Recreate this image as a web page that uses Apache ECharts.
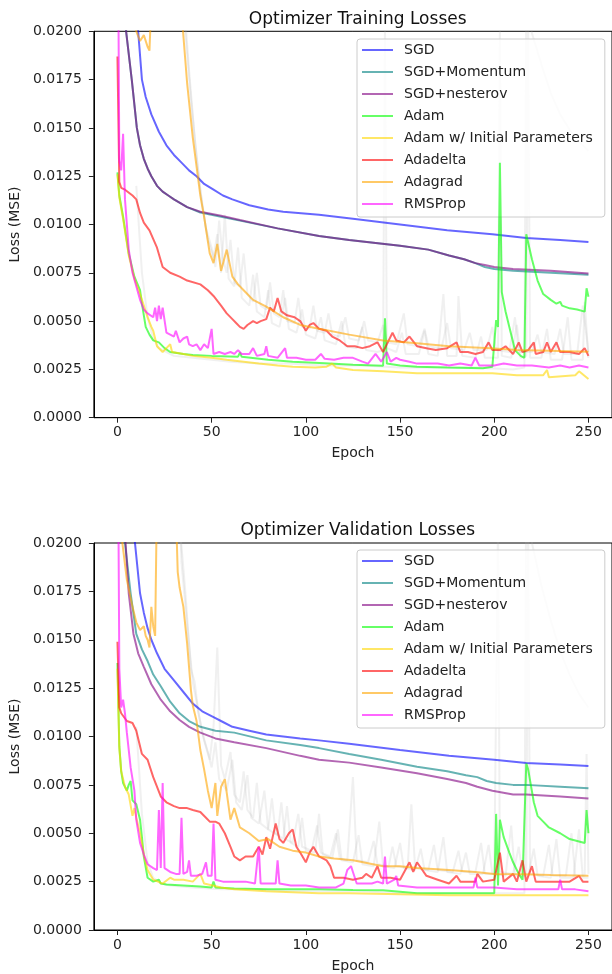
<!DOCTYPE html>
<html>
<head>
<meta charset="utf-8">
<script src="https://cdn.jsdelivr.net/npm/echarts/dist/echarts.min.js"></script>
<style>html,body{margin:0;padding:0;background:#fff}#c{width:612px;height:974px}</style>
</head>
<body>
<div id="c"></div>
<script>
// ---------- DATA (epoch, loss) ----------
const seriesNames = ['SGD','SGD+Momentum','SGD+nesterov','Adam','Adam w/ Initial Parameters','Adadelta','Adagrad','RMSProp'];
const epochTicks = [0,50,100,150,200,250];
const titles = ['Optimizer Training Losses','Optimizer Validation Losses'];

// Training
const trainSGD = [[0,0.08],[4,0.035],[8,0.025],[11,0.0200],[13,0.0175],[15,0.0166],[18,0.0157],[22,0.0148],[26,0.0141],[30,0.0136],[34,0.0132],[38,0.0128],[42,0.0125],[46,0.0121],[51,0.0118],[56,0.0115],[61,0.0113],[70,0.0110],[80,0.01078],[88,0.01066],[107,0.0105],[125,0.0103],[150,0.0100],[175,0.0097],[199,0.0095],[217,0.0093],[235,0.0092],[250,0.0091]];
const trainMomentum = [[0,0.08],[2,0.03],[4.6,0.0200],[7.6,0.0175],[10.3,0.0150],[12,0.0141],[14,0.0134],[16,0.0129],[18,0.0125],[21,0.0120],[24,0.0117],[27,0.0115],[30,0.0113],[37,0.0109],[44,0.01062],[55,0.0104],[65,0.0102],[85,0.0098],[107,0.0094],[123,0.0092],[150,0.0089],[165,0.0087],[176,0.0084],[184,0.0082],[190,0.0080],[195,0.0078],[200,0.0077],[210,0.0076],[230,0.0075],[250,0.00740]];
const trainNesterov = [[0,0.08],[2,0.03],[4.6,0.0200],[7.6,0.0175],[10.3,0.0150],[12,0.0141],[14,0.0134],[16,0.0129],[18,0.0125],[21,0.0120],[24,0.0117],[27,0.0115],[30,0.0113],[37,0.0109],[44,0.01066],[55,0.01045],[65,0.01023],[85,0.0098],[107,0.0094],[123,0.0092],[150,0.0089],[165,0.0087],[176,0.0084],[184,0.0082],[190,0.0080],[195,0.0079],[200,0.0078],[210,0.0077],[230,0.0076],[250,0.00747]];
const trainAdam = [[0,0.0127],[1,0.0115],[3,0.0104],[6,0.0085],[9,0.0073],[12,0.0066],[13,0.0059],[15,0.0047],[17,0.0043],[19,0.0040],[22,0.0039],[25,0.0036],[28,0.0034],[35,0.0033],[40,0.00325],[50,0.0032],[64,0.00316],[65,0.00336],[66,0.00315],[80,0.0030],[93,0.0029],[110,0.00282],[125,0.00274],[141,0.00269],[142,0.00514],[143,0.0028],[150,0.0027],[159,0.00264],[175,0.0026],[194,0.00256],[199,0.00264],[200,0.00256],[201,0.00505],[202,0.0047],[203,0.0132],[204,0.0065],[206,0.0055],[208,0.0047],[211,0.0035],[214,0.0032],[216,0.0031],[217,0.0095],[218,0.0094],[220,0.0082],[223,0.0071],[226,0.0064],[230,0.0061],[233,0.0059],[235,0.0060],[236,0.0058],[240,0.00566],[244,0.0056],[248,0.00549],[249,0.0067],[250,0.00626]];
const trainAdamInit = [[0,0.0126],[1,0.0114],[3,0.0103],[6,0.0084],[9,0.0072],[12,0.0064],[14,0.0058],[16,0.0052],[18,0.0047],[19,0.0045],[21,0.0037],[24,0.0034],[26,0.0036],[28,0.0038],[29,0.0034],[35,0.0033],[40,0.0032],[50,0.0031],[58,0.0030],[67,0.0029],[75,0.0028],[85,0.0027],[93,0.00264],[105,0.0026],[111,0.00264],[114,0.0028],[116,0.0026],[125,0.00247],[141,0.0024],[159,0.0023],[176,0.0023],[199,0.0023],[212,0.0022],[226,0.0022],[228,0.00247],[229,0.0021],[243,0.0022],[245,0.0024],[250,0.0020]];
const trainAdadelta = [[0,0.0187],[1,0.0122],[2,0.0119],[4,0.0118],[8,0.0115],[10,0.0113],[12,0.0106],[14,0.0101],[17,0.0097],[21,0.0088],[24,0.0078],[28,0.0075],[33,0.0073],[37,0.0071],[44,0.0069],[48,0.0066],[51,0.0063],[55,0.0058],[58,0.0054],[61,0.0051],[63,0.0049],[65,0.0047],[67,0.0046],[69,0.0048],[72,0.0050],[74,0.0049],[76,0.0050],[79,0.0051],[81,0.0057],[83,0.0055],[85,0.0062],[87,0.0055],[90,0.0053],[94,0.0052],[97,0.0050],[100,0.0045],[102,0.0048],[104,0.0049],[107,0.0046],[111,0.0045],[114,0.0042],[118,0.0040],[122,0.0037],[126,0.0037],[130,0.0036],[134,0.0037],[138,0.0039],[141,0.0034],[144,0.0040],[146,0.0044],[148,0.0040],[152,0.0039],[155,0.0042],[159,0.0037],[164,0.0036],[169,0.0035],[175,0.0036],[180,0.0039],[182,0.0034],[186,0.0034],[190,0.0033],[194,0.0034],[197,0.0039],[199,0.0035],[203,0.0035],[206,0.0037],[210,0.0033],[213,0.0039],[215,0.0034],[218,0.0035],[221,0.0039],[222,0.0033],[226,0.0034],[228,0.0039],[230,0.0034],[233,0.0039],[235,0.0034],[240,0.0034],[245,0.0033],[248,0.0036],[250,0.0032]];
const trainAdagrad = [[0,0.09],[5,0.04],[10,0.0200],[12,0.0195],[14,0.0198],[16,0.0192],[17,0.0190],[18,0.0215],[22,0.030],[30,0.028],[34,0.021],[37,0.0173],[40,0.0145],[42,0.0130],[44,0.0115],[46,0.0104],[49,0.0085],[51,0.0080],[53,0.0090],[55,0.0076],[58,0.0087],[61,0.0073],[64,0.0069],[67,0.0066],[72,0.0061],[79,0.00575],[88,0.0052],[97,0.0048],[107,0.0046],[123,0.0043],[141,0.0040],[159,0.00385],[176,0.0037],[198,0.0036],[212,0.0035],[229,0.00347],[250,0.00342]];
const trainRMSProp = [[0,0.030],[1,0.0133],[2,0.0128],[3,0.0147],[4,0.0113],[6,0.0087],[8,0.0075],[10,0.0068],[12,0.0061],[14,0.0056],[16,0.0054],[19,0.0052],[20,0.0057],[21,0.0050],[22,0.0058],[23,0.0051],[24,0.0057],[26,0.0044],[28,0.0043],[30,0.0042],[31,0.0045],[33,0.0039],[35,0.0041],[37,0.0042],[38,0.0038],[40,0.0037],[42,0.0038],[44,0.0035],[46,0.0038],[48,0.0036],[50,0.0046],[51,0.0033],[54,0.0034],[57,0.0033],[60,0.0034],[62,0.0033],[64,0.0035],[66,0.0033],[70,0.0033],[72,0.0036],[74,0.0032],[78,0.0033],[79,0.0037],[80,0.0032],[85,0.0031],[89,0.0036],[90,0.0031],[95,0.0031],[100,0.0030],[105,0.0030],[108,0.0033],[110,0.00305],[115,0.0030],[120,0.0031],[125,0.0031],[130,0.0029],[133,0.0028],[137,0.0033],[140,0.0029],[143,0.0034],[145,0.0029],[148,0.0031],[150,0.0030],[155,0.0029],[159,0.0028],[165,0.0028],[170,0.0028],[176,0.0027],[182,0.0028],[188,0.0027],[190,0.0031],[192,0.0027],[200,0.0027],[205,0.0028],[212,0.0027],[220,0.0027],[229,0.0026],[235,0.0027],[240,0.0026],[245,0.0027],[250,0.0026]];
const trainGrey1 = [[30,0.035],[35,0.022],[38,0.018],[41,0.0145],[44,0.0118],[47,0.0098],[50,0.0088],[52,0.0078],[54,0.0102],[56,0.0082],[58,0.0075],[60,0.0092],[62,0.0070],[65,0.0068],[67,0.0085],[69,0.0064],[72,0.0060],[74,0.0075],[76,0.0058],[79,0.0056],[81,0.0070],[83,0.0054],[86,0.0052],[88,0.0066],[90,0.0050],[94,0.0049],[96,0.0062],[98,0.0047],[102,0.0046],[104,0.0058],[106,0.0045],[110,0.0044],[112,0.0054],[114,0.0043],[118,0.0042],[121,0.0052],[123,0.0041],[128,0.0040],[131,0.0050],[133,0.0040],[138,0.0039],[141,0.0048],[143,0.0039],[148,0.0038],[152,0.0054],[154,0.0038],[160,0.0037],[163,0.0046],[165,0.0037],[172,0.0036],[175,0.0049],[177,0.0036],[184,0.0035],[187,0.0044],[189,0.0035],[196,0.0035],[199,0.0047],[201,0.0035],[208,0.0034],[211,0.0052],[213,0.0034],[220,0.0034],[223,0.0043],[225,0.0034],[232,0.0033],[235,0.0046],[237,0.0033],[244,0.0033],[247,0.0058],[250,0.0034]];
const trainGrey2 = [[32,0.030],[36,0.020],[39,0.0165],[42,0.0135],[45,0.0110],[48,0.0092],[51,0.0083],[53,0.0095],[55,0.0075],[57,0.0105],[59,0.0072],[62,0.0068],[64,0.0088],[66,0.0062],[70,0.0058],[72,0.0074],[74,0.0055],[78,0.0052],[80,0.0066],[82,0.0049],[86,0.0047],[89,0.0062],[91,0.0046],[95,0.0044],[98,0.0056],[100,0.0043],[105,0.0041],[108,0.0052],[110,0.0040],[116,0.0038],[119,0.0050],[121,0.0037],[127,0.0036],[130,0.0047],[132,0.0035],[138,0.0034],[141,0.0035],[142,0.0205],[143,0.0036],[148,0.0034],[151,0.0044],[153,0.0033],[160,0.0033],[163,0.0045],[165,0.0033],[170,0.0032],[173,0.0064],[175,0.0032],[180,0.0032],[181,0.0063],[183,0.0032],[190,0.0031],[193,0.0042],[195,0.0031],[202,0.0031],[203,0.0205],[204,0.0032],[209,0.0031],[212,0.0048],[214,0.0031],[217,0.0032],[218,0.0205],[219,0.0031],[225,0.0031],[228,0.0046],[230,0.0030],[236,0.0030],[239,0.0052],[241,0.0030],[247,0.0030],[248,0.0060],[250,0.0031]];
const trainGrey3 = [[10,0.0120],[13,0.0075],[16,0.0052],[19,0.0041],[22,0.0036],[26,0.0034],[30,0.0032],[40,0.0031],[50,0.0030],[60,0.0029],[75,0.0028],[90,0.0028],[110,0.0027],[130,0.0027],[150,0.0026],[170,0.0026],[190,0.0026],[210,0.0025],[216,0.0026],[217,0.0220],[220,0.0199],[225,0.0183],[230,0.0168],[235,0.0157],[240,0.0149],[245,0.0143],[250,0.0138]];

// Validation
const valSGD = [[0,0.08],[4,0.035],[7,0.024],[9,0.0203],[12,0.0174],[14,0.0164],[16,0.0156],[18,0.0150],[21,0.0143],[25,0.0135],[30,0.0129],[35,0.0123],[40,0.0117],[45,0.0113],[51,0.0110],[56,0.01075],[61,0.0105],[70,0.0103],[79,0.0101],[97,0.0099],[107,0.0098],[123,0.00962],[150,0.0093],[176,0.0090],[200,0.0088],[217,0.00863],[235,0.00855],[250,0.00848]];
const valMomentum = [[0,0.07],[2,0.03],[4,0.0200],[7,0.0174],[10,0.0153],[13,0.0145],[16,0.0139],[19,0.0132],[23,0.0126],[28,0.0118],[33,0.0112],[38,0.0108],[44,0.0105],[52,0.0103],[62,0.0102],[79,0.0098],[97,0.00956],[107,0.0094],[123,0.0091],[140,0.0088],[159,0.00844],[175,0.0082],[185,0.0080],[191,0.0079],[196,0.0077],[201,0.0076],[210,0.0075],[217,0.0075],[235,0.0074],[250,0.00732]];
const valNesterov = [[0,0.065],[2,0.03],[4,0.0205],[6,0.0174],[8.5,0.0153],[11,0.0143],[14,0.0136],[18,0.0127],[23,0.0119],[28,0.0113],[33,0.01085],[38,0.0105],[44,0.0102],[52,0.0099],[62,0.0097],[79,0.0094],[97,0.0090],[107,0.0088],[123,0.00865],[140,0.0084],[159,0.0081],[175,0.0078],[185,0.0076],[191,0.0074],[199,0.0072],[210,0.0070],[217,0.0070],[235,0.0069],[250,0.0068]];
const valAdam = [[0,0.0138],[1,0.0095],[2,0.0082],[3,0.0076],[5,0.0072],[6,0.0075],[7,0.0077],[8,0.0067],[10,0.0065],[12,0.0057],[13,0.0048],[14,0.0038],[16,0.0027],[19,0.0025],[22,0.0026],[23,0.0024],[26,0.00235],[35,0.0023],[44,0.00225],[50,0.0022],[51,0.0025],[52,0.0022],[62,0.00215],[80,0.0021],[107,0.0021],[125,0.00207],[141,0.00205],[159,0.0019],[180,0.0019],[200,0.0019],[201,0.0060],[202,0.0023],[203,0.0057],[205,0.0048],[208,0.0040],[210,0.0035],[213,0.0029],[215,0.0026],[216,0.0025],[217,0.0086],[218,0.0083],[221,0.0066],[223,0.0059],[226,0.0056],[229,0.0053],[235,0.0050],[240,0.0047],[244,0.0046],[248,0.0045],[249,0.0062],[250,0.0050]];
const valAdamInit = [[0,0.0135],[1,0.0094],[2,0.0082],[4,0.0074],[6,0.0070],[8,0.0059],[9,0.0063],[10,0.0058],[12,0.0050],[14,0.0039],[16,0.0031],[19,0.0026],[24,0.0024],[28,0.0027],[30,0.0026],[35,0.0026],[40,0.0025],[44,0.0029],[46,0.0024],[55,0.0022],[62,0.0021],[79,0.0020],[107,0.0019],[123,0.0019],[150,0.00185],[176,0.0018],[200,0.0018],[225,0.0018],[250,0.0018]];
const valAdadelta = [[0,0.0149],[1,0.0115],[2,0.0112],[5,0.0108],[8,0.0107],[10,0.0103],[13,0.0091],[16,0.0088],[19,0.0079],[23,0.0069],[26,0.0066],[30,0.0064],[33,0.0063],[37,0.0063],[40,0.0062],[44,0.0061],[47,0.0058],[49,0.0056],[52,0.0056],[54,0.0055],[57,0.0050],[60,0.0043],[62,0.0038],[65,0.0036],[68,0.0038],[72,0.0038],[75,0.0043],[77,0.0039],[79,0.0048],[81,0.0042],[84,0.0055],[86,0.0047],[88,0.0045],[91,0.0050],[93,0.0052],[95,0.0043],[97,0.0040],[100,0.0035],[102,0.0040],[104,0.0043],[107,0.0038],[111,0.0036],[113,0.0033],[115,0.0027],[120,0.0027],[125,0.0026],[130,0.0027],[132,0.0029],[135,0.0027],[138,0.0033],[140,0.0027],[145,0.0027],[150,0.0026],[155,0.0035],[157,0.0030],[159,0.0035],[164,0.0028],[170,0.0026],[176,0.0024],[180,0.0028],[182,0.0025],[190,0.0025],[191,0.0029],[194,0.0025],[200,0.0026],[203,0.0040],[205,0.0025],[210,0.0029],[212,0.0025],[215,0.0036],[217,0.0025],[220,0.0033],[222,0.0025],[230,0.0025],[240,0.0025],[245,0.0028],[247,0.0025],[250,0.0025]];
const valAdagrad = [[0,0.07],[2,0.0205],[5,0.0181],[8,0.0167],[10,0.0159],[12,0.0155],[14,0.0157],[15,0.0152],[16,0.0150],[17,0.0146],[18,0.0167],[19,0.0157],[20,0.0152],[21,0.0151],[22,0.030],[26,0.040],[30,0.025],[32,0.0185],[33,0.0177],[35,0.0167],[37,0.0148],[39,0.0124],[40,0.0116],[42,0.0108],[44,0.0093],[46,0.0083],[48,0.0072],[50,0.0063],[52,0.0076],[53,0.0059],[55,0.0074],[57,0.0078],[60,0.0057],[62,0.0063],[65,0.0053],[70,0.0050],[75,0.0046],[80,0.0047],[86,0.0043],[93,0.0041],[100,0.0040],[107,0.0038],[115,0.0037],[125,0.0036],[141,0.0033],[150,0.0033],[159,0.0032],[176,0.0031],[190,0.0030],[200,0.0029],[215,0.00288],[230,0.00284],[250,0.0028]];
const valRMSProp = [[0,0.030],[1,0.0135],[2,0.0115],[3,0.0119],[4,0.0112],[5,0.0102],[7,0.0084],[9,0.0072],[10,0.0057],[12,0.0045],[14,0.0039],[16,0.0034],[19,0.0032],[21,0.0031],[22,0.0062],[23,0.0032],[24,0.0076],[25,0.0032],[28,0.0030],[31,0.0029],[33,0.0029],[34,0.0058],[35,0.0029],[37,0.0030],[38,0.0036],[39,0.0028],[42,0.0028],[45,0.0029],[47,0.0035],[48,0.0028],[50,0.0028],[51,0.0055],[52,0.0026],[56,0.0025],[62,0.0025],[68,0.0025],[73,0.0024],[75,0.0043],[76,0.0024],[80,0.0024],[84,0.0024],[85,0.0036],[86,0.0024],[92,0.0023],[100,0.0023],[107,0.0022],[111,0.0022],[116,0.0022],[120,0.0024],[122,0.0031],[124,0.0033],[125,0.0030],[127,0.0024],[135,0.0024],[138,0.0025],[141,0.0024],[142,0.0038],[143,0.0024],[147,0.0026],[148,0.0028],[149,0.0023],[159,0.0022],[170,0.0022],[180,0.0022],[189,0.0022],[190,0.0027],[191,0.0022],[200,0.0022],[212,0.0021],[225,0.0021],[234,0.0021],[235,0.0026],[236,0.0021],[243,0.0021],[250,0.0020]];
const valGrey1 = [[28,0.035],[33,0.021],[36,0.0175],[39,0.0135],[41,0.0128],[43,0.0112],[46,0.0098],[49,0.0088],[51,0.0105],[53,0.0146],[55,0.0085],[57,0.0078],[60,0.0092],[62,0.0070],[65,0.0066],[67,0.0082],[69,0.0062],[72,0.0058],[74,0.0076],[76,0.0055],[80,0.0052],[82,0.0068],[84,0.0050],[88,0.0047],[90,0.0064],[92,0.0045],[96,0.0043],[98,0.0058],[100,0.0041],[105,0.0040],[107,0.0060],[109,0.0039],[114,0.0037],[117,0.0052],[119,0.0036],[125,0.0035],[128,0.0049],[130,0.0034],[136,0.0033],[139,0.0056],[141,0.0033],[147,0.0032],[150,0.0045],[152,0.0032],[158,0.0031],[161,0.0042],[163,0.0031],[170,0.0030],[173,0.0048],[175,0.0030],[182,0.0029],[185,0.0040],[187,0.0029],[194,0.0029],[197,0.0044],[199,0.0029],[206,0.0028],[209,0.0054],[211,0.0028],[218,0.0028],[221,0.0042],[223,0.0028],[230,0.0027],[233,0.0047],[235,0.0027],[242,0.0027],[245,0.0052],[247,0.0027],[250,0.0027]];
const valGrey2 = [[30,0.030],[34,0.019],[37,0.0158],[40,0.0128],[42,0.0118],[45,0.0102],[48,0.0092],[50,0.0084],[52,0.0097],[54,0.0078],[58,0.0072],[61,0.0088],[63,0.0066],[66,0.0062],[69,0.0080],[71,0.0058],[75,0.0055],[78,0.0072],[80,0.0052],[85,0.0049],[87,0.0066],[89,0.0047],[93,0.0045],[96,0.0060],[98,0.0043],[103,0.0041],[106,0.0054],[108,0.0040],[113,0.0038],[116,0.0050],[118,0.0037],[122,0.0036],[125,0.0079],[127,0.0036],[133,0.0035],[136,0.0046],[138,0.0034],[144,0.0033],[146,0.0043],[148,0.0033],[154,0.0032],[156,0.0065],[158,0.0032],[165,0.0031],[168,0.0044],[170,0.0031],[178,0.0030],[181,0.0041],[183,0.0030],[190,0.0030],[193,0.0045],[195,0.0029],[200,0.0029],[202,0.021],[203,0.0030],[210,0.0029],[213,0.0043],[215,0.0029],[217,0.0029],[218,0.021],[219,0.0029],[226,0.0028],[229,0.0044],[231,0.0028],[238,0.0028],[241,0.0050],[243,0.0028],[248,0.0028],[249,0.0091],[250,0.0029]];
const valGrey3 = [[10,0.0105],[13,0.0060],[16,0.0035],[19,0.0027],[23,0.0024],[28,0.0023],[40,0.0022],[55,0.0021],[70,0.0021],[90,0.0020],[110,0.0020],[130,0.0020],[150,0.0019],[170,0.0019],[190,0.0019],[210,0.0019],[216,0.0019],[217,0.024],[220,0.020],[225,0.0178],[230,0.0160],[235,0.0144],[240,0.0132],[245,0.0122],[250,0.0115]];

// ---------- STYLE ----------
const colors = ['rgba(0,0,255,0.6)','rgba(0,128,128,0.6)','rgba(128,0,128,0.6)','rgba(0,255,0,0.6)','rgba(255,215,0,0.6)','rgba(255,0,0,0.6)','rgba(255,165,0,0.6)','rgba(255,0,255,0.6)'];
const greyColor = 'rgba(170,170,170,0.18)';
const FONT = 'DejaVu Sans';

const trainSets = [trainSGD,trainMomentum,trainNesterov,trainAdam,trainAdamInit,trainAdadelta,trainAdagrad,trainRMSProp];
const valSets = [valSGD,valMomentum,valNesterov,valAdam,valAdamInit,valAdadelta,valAdagrad,valRMSProp];
const trainGreys = [trainGrey1,trainGrey2,trainGrey3];
const valGreys = [valGrey1,valGrey2,valGrey3];

const grids = [
  {left:93.3, top:31.3, width:519.3, height:386.4},
  {left:93.3, top:543, width:519.3, height:387}
];

function xAxis(i){
  return {gridIndex:i, type:'value', min:-12.5, max:262.5,
    name:'Epoch', nameLocation:'middle', nameGap:29,
    nameTextStyle:{fontFamily:FONT, fontSize:14, color:'#222'},
    axisLine:{show:true, onZero:false, lineStyle:{color:'#000', width:1}},
    axisTick:{show:true, length:5, inside:false, customValues:epochTicks, lineStyle:{color:'#222'}},
    axisLabel:{customValues:epochTicks, margin:8, fontFamily:FONT, fontSize:14, color:'#222'},
    splitLine:{show:false}};
}
function yAxis(i){
  return {gridIndex:i, type:'value', min:0, max:0.02, interval:0.0025,
    name:'Loss (MSE)', nameLocation:'middle', nameGap:70, nameRotate:90,
    nameTextStyle:{fontFamily:FONT, fontSize:14, color:'#222'},
    axisLine:{show:true, onZero:false, lineStyle:{color:'#000', width:1}},
    axisTick:{show:true, length:5, lineStyle:{color:'#222'}},
    axisLabel:{margin:12, fontFamily:FONT, fontSize:14, color:'#222', formatter:v=>v.toFixed(4)},
    splitLine:{show:false}};
}

const series = [];
[trainGreys, valGreys].forEach((gs, gi) => gs.forEach((d, k) => series.push({
  name:'_grey'+gi+k, type:'line', xAxisIndex:gi, yAxisIndex:gi, data:d,
  showSymbol:false, symbol:'none', silent:true, clip:true,
  lineStyle:{width:2, color:greyColor}, itemStyle:{color:greyColor}, z:1
})));
[trainSets, valSets].forEach((sets, gi) => sets.forEach((d, k) => series.push({
  name:seriesNames[k], type:'line', xAxisIndex:gi, yAxisIndex:gi, data:d,
  showSymbol:false, symbol:'none', clip:true,
  lineStyle:{width:2, color:colors[k]}, itemStyle:{color:colors[k]}, z:2+k
})));

function legend(top){
  return {data:seriesNames, orient:'vertical', left:357, top:top,
    icon:'rect', itemWidth:31, itemHeight:2, itemGap:6,
    padding:[3,12,5,5],
    backgroundColor:'rgba(255,255,255,0.8)', borderColor:'#cccccc', borderWidth:1, borderRadius:3,
    textStyle:{fontFamily:FONT, fontSize:14, color:'#222', lineHeight:16, padding:[0,0,0,6]},
    selectedMode:false};
}

const chart = echarts.init(document.getElementById('c'), null, {renderer:'canvas'});
chart.setOption({
  animation:false,
  backgroundColor:'#fff',
  title:[
    {text:titles[0], left:352.7, top:6, textAlign:'center', textStyle:{fontFamily:FONT, fontSize:17, fontWeight:'normal', color:'#111'}},
    {text:titles[1], left:352.7, top:517, textAlign:'center', textStyle:{fontFamily:FONT, fontSize:17, fontWeight:'normal', color:'#111'}}
  ],
  grid:grids.map(g => Object.assign({show:true, borderColor:'#000', borderWidth:1, backgroundColor:'transparent'}, g)),
  xAxis:[xAxis(0), xAxis(1)],
  yAxis:[yAxis(0), yAxis(1)],
  legend:[legend(39), legend(550)],
  series:series
});
</script>
</body>
</html>
